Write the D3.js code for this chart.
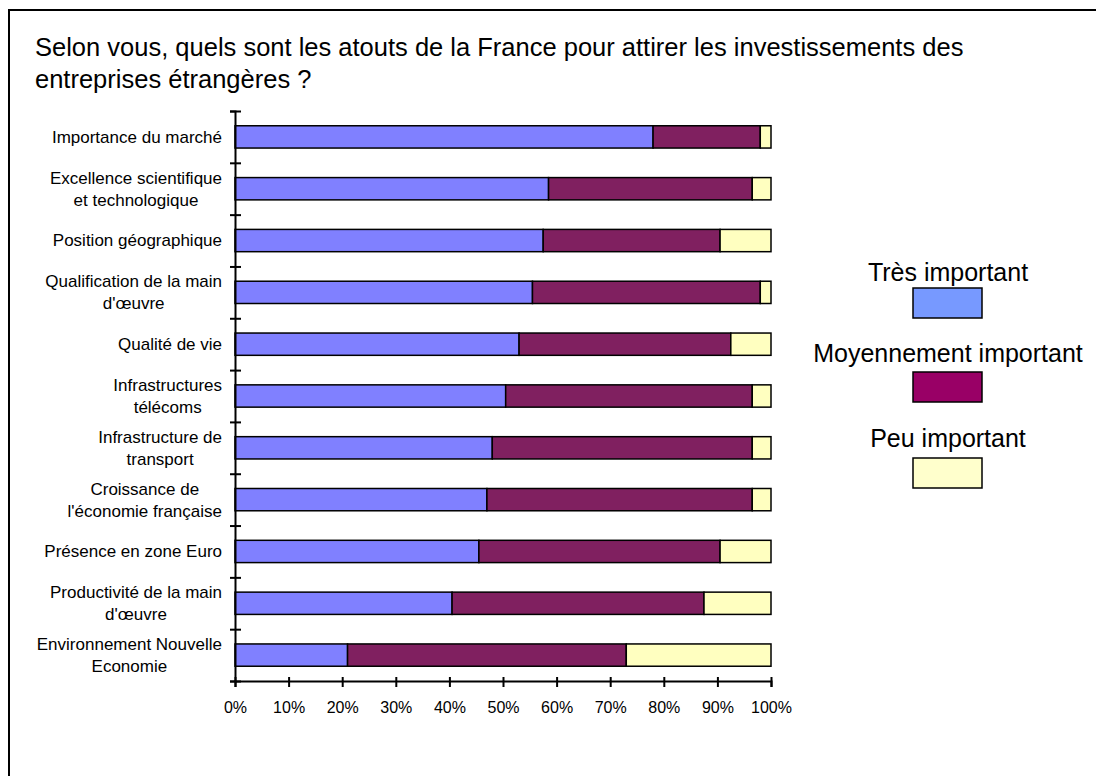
<!DOCTYPE html>
<html>
<head>
<meta charset="utf-8">
<script src="https://cdn.jsdelivr.net/npm/d3@7"></script>
<style>
  body { margin: 0; background: #fff; }
  svg { font-family: "Liberation Sans", Arial, sans-serif; }
</style>
</head>
<body>
<div id="chart"></div>
<script>
// categories (top to bottom), each may wrap on 2 lines
var categories = [
    ["Importance du marché"],
    ["Excellence scientifique", "et technologique"],
    ["Position géographique"],
    ["Qualification de la main", "d'œuvre"],
    ["Qualité de vie"],
    ["Infrastructures", "télécoms"],
    ["Infrastructure de", "transport"],
    ["Croissance de", "l'économie française"],
    ["Présence en zone Euro"],
    ["Productivité de la main", "d'œuvre"],
    ["Environnement Nouvelle", "Economie"]
];
var tresImportant = [78, 58.5, 57.5, 55.5, 53, 50.5, 48, 47, 45.5, 40.5, 21];
var moyennement   = [20, 38, 33, 42.5, 39.5, 46, 48.5, 49.5, 45, 47, 52];
var peuImportant  = [2, 3.5, 9.5, 2, 7.5, 3.5, 3.5, 3.5, 9.5, 12.5, 27];
var seriesNames = ["Très important", "Moyennement important", "Peu important"];
var xTicks = [0, 10, 20, 30, 40, 50, 60, 70, 80, 90, 100];

var barColors = ["#8080ff", "#802060", "#ffffc0"];
var legendColors = ["#7799ff", "#990066", "#ffffcc"];

var width = 1096, height = 776;
var svg = d3.select("#chart").append("svg")
    .attr("width", width)
    .attr("height", height);

// outer frame
svg.append("rect")
    .attr("x", 9).attr("y", 10)
    .attr("width", 1200).attr("height", 1000)
    .attr("fill", "none")
    .attr("stroke", "#000")
    .attr("stroke-width", 2);

// title
var title = svg.append("text")
    .attr("x", 35).attr("y", 56)
    .style("font-size", "25.5px")
    .attr("fill", "#000");
title.append("tspan").attr("x", 35).text("Selon vous, quels sont les atouts de la France pour attirer les investissements des");
title.append("tspan").attr("x", 35).attr("dy", 32).text("entreprises étrangères ?");

var plot = { left: 235, right: 771, top: 111, bottom: 681 };

var rows = categories.map(function(c, i) {
    return { id: i, tres: tresImportant[i], moyen: moyennement[i], peu: peuImportant[i] };
});

var x = d3.scaleLinear().domain([0, 100]).range([plot.left, plot.right]);
var y = d3.scaleBand().domain(d3.range(categories.length)).range([plot.top, plot.bottom]).padding(0);
var yEdges = d3.scaleLinear().domain([0, categories.length]).range([plot.top, plot.bottom]);

var stack = d3.stack().keys(["tres", "moyen", "peu"]);
var layers = stack(rows);

var barH = y.bandwidth() * 0.43;
var barOff = (y.bandwidth() - barH) / 2;

svg.selectAll("g.layer")
    .data(layers)
    .enter().append("g")
    .attr("class", "layer")
    .attr("fill", function(d, i) { return barColors[i]; })
    .selectAll("rect")
    .data(function(d) { return d; })
    .enter().append("rect")
    .attr("x", function(d) { return x(d[0]); })
    .attr("y", function(d) { return y(d.data.id) + barOff; })
    .attr("width", function(d) { return x(d[1]) - x(d[0]); })
    .attr("height", barH)
    .attr("stroke", "#000")
    .attr("stroke-width", 1.5);

// x axis with crossing ticks
var xAxis = svg.append("g")
    .attr("transform", "translate(0," + plot.bottom + ")")
    .call(d3.axisBottom(x).tickValues(xTicks).tickSizeOuter(0).tickSize(6)
        .tickFormat(function(d) { return d + "%"; }));
xAxis.select(".domain").attr("stroke-width", 2);
xAxis.selectAll(".tick line").attr("y1", -4).attr("stroke-width", 2);
xAxis.selectAll(".tick text")
    .attr("y", 32).attr("dy", null)
    .style("font-size", "16px")
    .style("font-family", "Liberation Sans, Arial, sans-serif")
    .attr("fill", "#000");

// y axis with crossing ticks at band edges
var yAxis = svg.append("g")
    .attr("transform", "translate(" + plot.left + ",0)")
    .call(d3.axisLeft(yEdges).tickValues(d3.range(categories.length + 1))
        .tickSizeOuter(0).tickSize(5).tickFormat(""));
yAxis.select(".domain").attr("stroke-width", 2);
yAxis.selectAll(".tick line").attr("x1", 6).attr("x2", -5).attr("stroke-width", 2);

// category labels: block right-aligned, lines centred within block
var lineH = 22;
var labelRight = 222;
categories.forEach(function(lines, i) {
    var g = svg.append("g");
    var cy = y(i) + y.bandwidth() / 2;
    var texts = lines.map(function(l, k) {
        return g.append("text")
            .attr("y", cy + (k - (lines.length - 1) / 2) * lineH)
            .attr("dy", "0.35em")
            .style("font-size", "17px")
            .attr("fill", "#000")
            .attr("text-anchor", "middle")
            .text(l);
    });
    var maxW = d3.max(texts, function(t) { return t.node().getComputedTextLength(); });
    texts.forEach(function(t) { t.attr("x", labelRight - maxW / 2); });
});

// legend
var legendCx = 948;
var legendY = [272, 353, 438];
var swatchY = [288, 372, 458];
seriesNames.forEach(function(name, i) {
    svg.append("text")
        .attr("x", legendCx).attr("y", legendY[i])
        .attr("dy", "0.35em")
        .attr("text-anchor", "middle")
        .style("font-size", "25px")
        .attr("fill", "#000")
        .text(name);
    svg.append("rect")
        .attr("x", 913).attr("y", swatchY[i])
        .attr("width", 69).attr("height", 30)
        .attr("fill", legendColors[i])
        .attr("stroke", "#000")
        .attr("stroke-width", 1.5);
});
</script>
</body>
</html>
